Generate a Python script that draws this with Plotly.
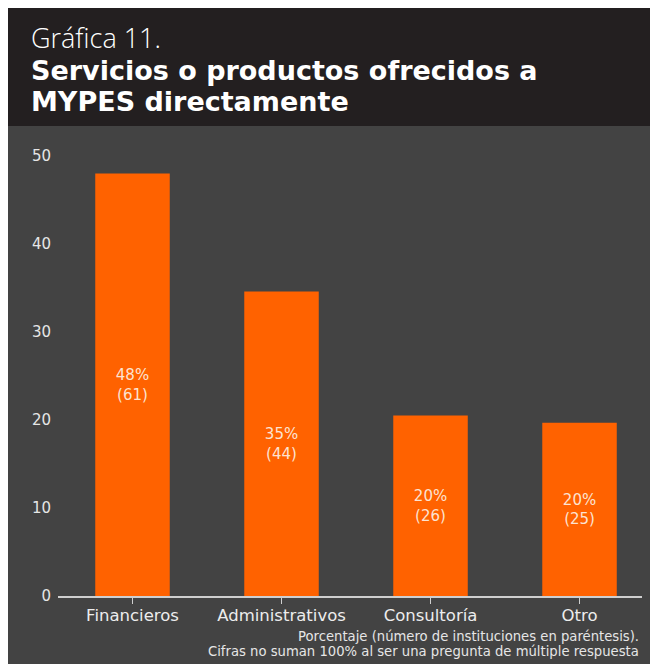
import plotly.graph_objects as go

categories = ["Financieros", "Administrativos", "Consultoría", "Otro"]
values = [48.0, 34.6, 20.5, 19.7]
pct_labels = ["48%", "35%", "20%", "20%"]
counts = [61, 44, 26, 25]
y_ticks = [0, 10, 20, 30, 40, 50]

FONT = "DejaVu Sans"
W, H = 642, 656
ML, MR, MT, MB = 50, 0, 132, 68
PW = W - ML - MR
PH = H - MT - MB


def px(x):
    return (x - ML) / PW


def py(y):
    return (H - MB - y) / PH


texts = [f"{p}<br>({c})" for p, c in zip(pct_labels, counts)]

fig = go.Figure(
    go.Bar(
        x=categories,
        y=values,
        width=0.5,
        marker=dict(color="#FF6200", line=dict(width=0)),
        text=texts,
        textposition="inside",
        insidetextanchor="middle",
        textangle=0,
        textfont=dict(color="#FCE3D2", size=15, family=FONT),
        hoverinfo="skip",
    )
)

shapes = [
    dict(type="rect", xref="paper", yref="paper", x0=px(0), x1=px(W), y0=py(118), y1=py(H),
         fillcolor="#434343", line=dict(width=0), layer="below"),
    dict(type="rect", xref="paper", yref="paper", x0=px(0), x1=px(W), y0=py(0), y1=py(118),
         fillcolor="#231F20", line=dict(width=0), layer="below"),
]

annotations = [
    dict(text="Gráfica 11.", xref="paper", yref="paper", x=px(21), y=py(29), xanchor="left",
         yanchor="middle", showarrow=False,
         font=dict(family="Open Sans", size=27, color="#FFFFFF", weight=300)),
    dict(text="<b>Servicios o productos ofrecidos a</b>", xref="paper", yref="paper", x=px(21), y=py(62),
         xanchor="left", yanchor="middle", showarrow=False,
         font=dict(family=FONT, size=27, color="#FFFFFF")),
    dict(text="<b>MYPES directamente</b>", xref="paper", yref="paper", x=px(21), y=py(93),
         xanchor="left", yanchor="middle", showarrow=False,
         font=dict(family=FONT, size=27, color="#FFFFFF")),
    dict(text="Porcentaje (número de instituciones en paréntesis).",
         xref="paper", yref="paper", x=px(633), y=py(628), xanchor="right", yanchor="middle",
         showarrow=False, font=dict(family=FONT, size=13.2, color="#E6E6E6")),
    dict(text="Cifras no suman 100% al ser una pregunta de múltiple respuesta",
         xref="paper", yref="paper", x=px(633), y=py(643), xanchor="right", yanchor="middle",
         showarrow=False, font=dict(family=FONT, size=13.2, color="#E6E6E6")),
]

fig.update_layout(
    width=W, height=H,
    margin=dict(l=ML, r=MR, t=MT, b=MB, pad=0),
    paper_bgcolor="#FFFFFF",
    plot_bgcolor="rgba(0,0,0,0)",
    showlegend=False,
    shapes=shapes,
    annotations=annotations,
    bargap=0.5,
    xaxis=dict(
        range=[-0.5, 3.473],
        showline=True, linecolor="#CFCFCF", linewidth=2,
        ticks="outside", ticklen=6, tickcolor="#CFCFCF", tickwidth=1,
        tickfont=dict(family=FONT, size=16.5, color="#EDEDED"),
        ticklabelstandoff=-3,
        showgrid=False, zeroline=False, fixedrange=True,
    ),
    yaxis=dict(
        range=[0, PH / 8.8],
        tickvals=y_ticks,
        showgrid=False, zeroline=False, showline=False,
        tickfont=dict(family=FONT, size=15, color="#E6E6E6"),
        ticklabelstandoff=6, fixedrange=True,
    ),
)

page_js = (
    "var d=document.documentElement;"
    "d.style.overflow='hidden';"
    "d.style.background='linear-gradient(to right,#FFFFFF 8px,transparent 8px),"
    "linear-gradient(to bottom,#FFFFFF 8px,#231F20 8px,#231F20 126px,#434343 126px)';"
)

fig.write_html("out.html", post_script=page_js)
